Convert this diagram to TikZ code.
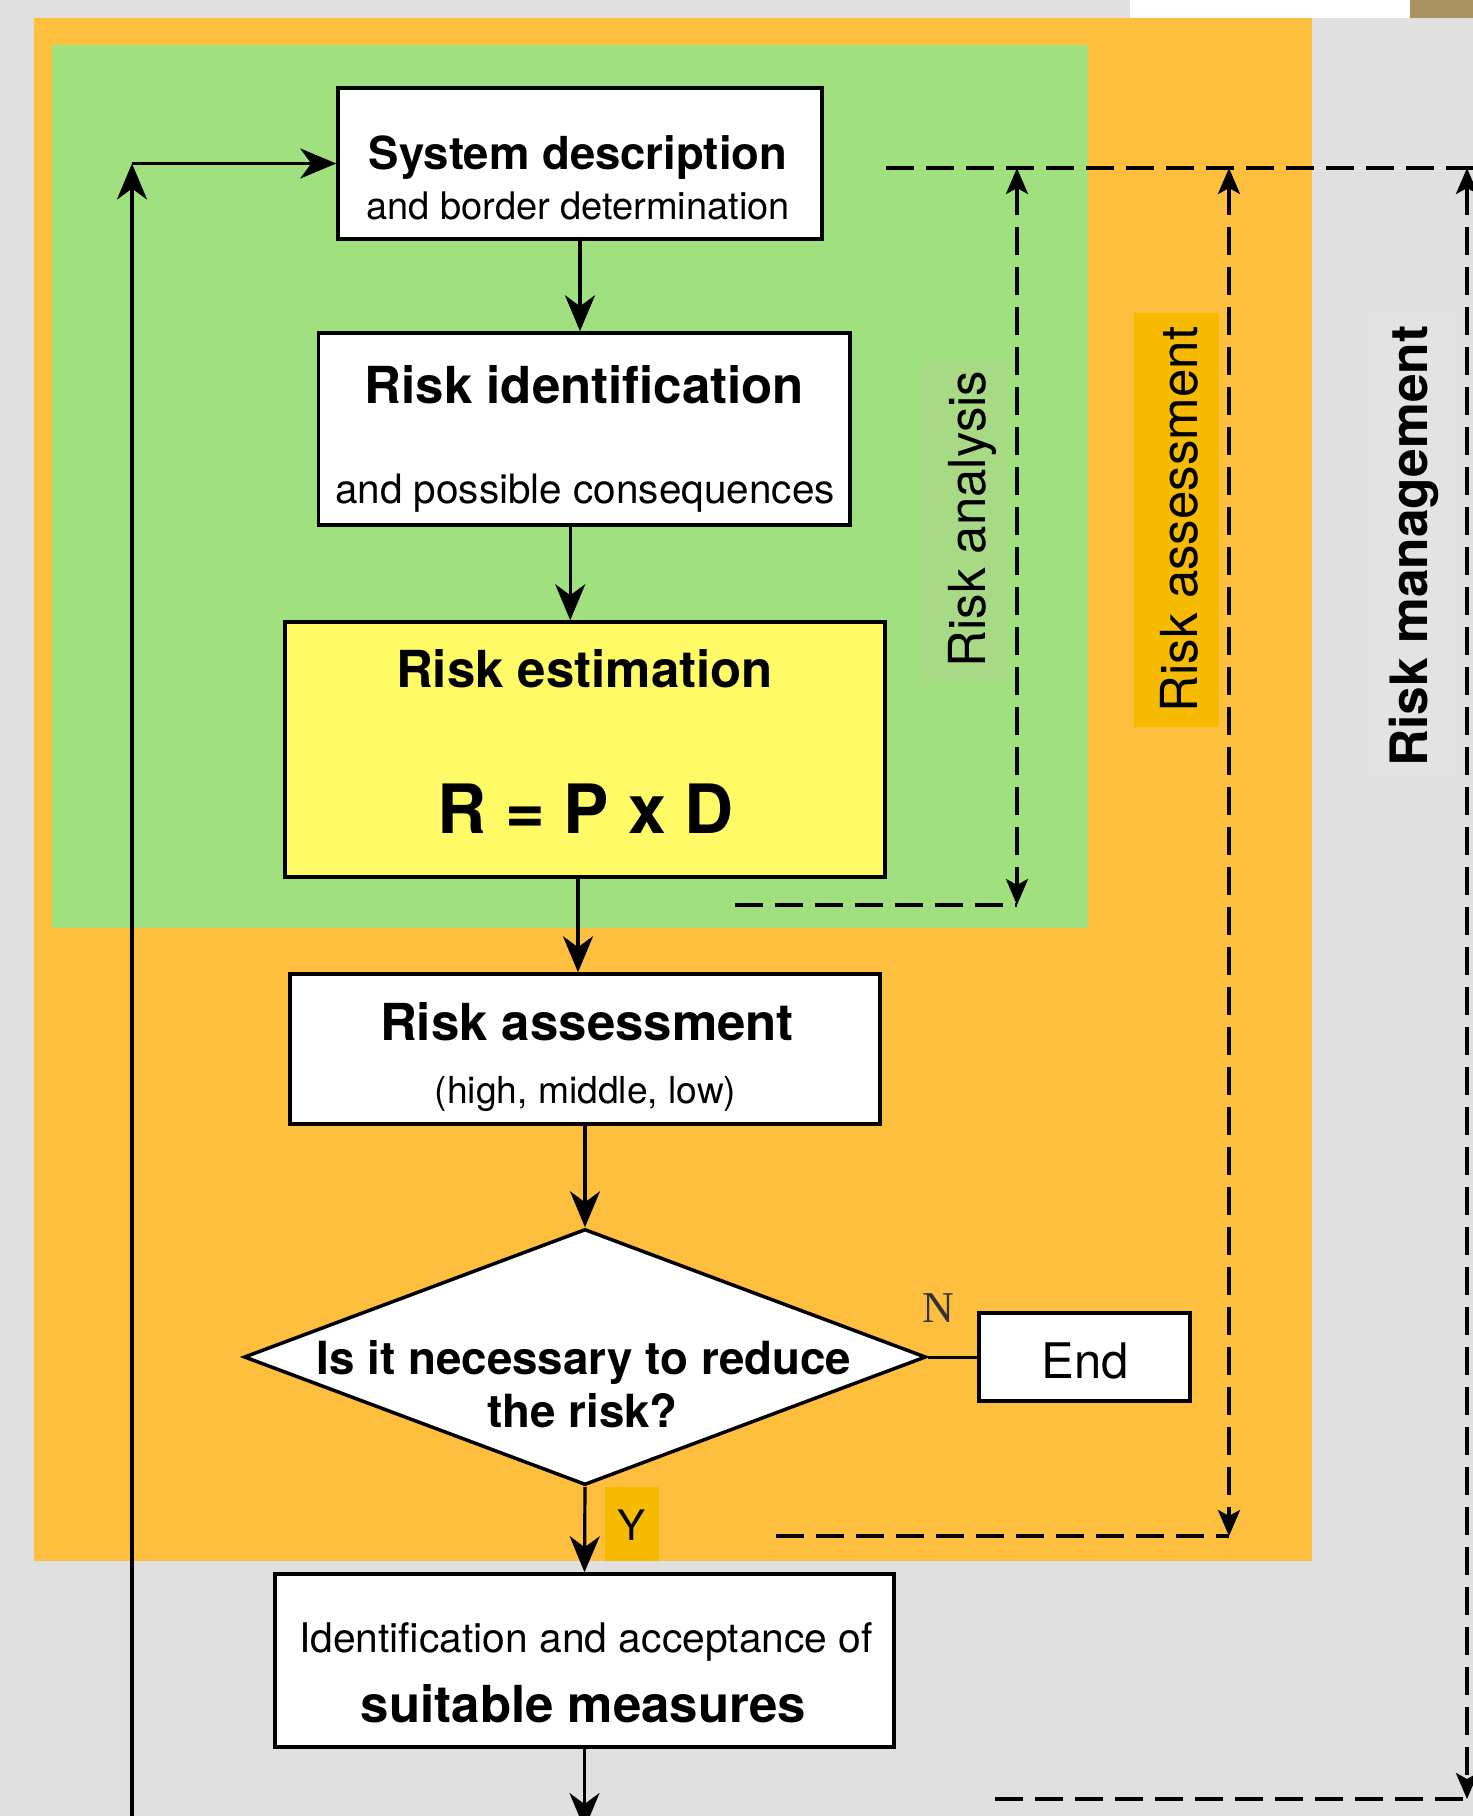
\documentclass[tikz,border=0pt]{standalone}
\usepackage{fontspec}
\setmainfont{TeX Gyre Heros}
\newfontfamily\serifN{Liberation Serif}
\usetikzlibrary{arrows.meta,shapes.geometric}
\definecolor{bggray}{HTML}{E0E0E0}
\definecolor{orangebg}{HTML}{FEBF3F}
\definecolor{greenbg}{HTML}{A1E07F}
\definecolor{estyellow}{HTML}{FFFB66}
\definecolor{amber}{HTML}{F6BB00}
\definecolor{analysisbg}{HTML}{A8D985}
\definecolor{managebg}{HTML}{E3E3E3}
\definecolor{photo}{HTML}{A8925E}
\newcommand{\fsz}[1]{\fontsize{#1}{#1}\selectfont}

\begin{document}
\begin{tikzpicture}[x=1pt, y=-1pt,
    box/.style={draw, line width=3.5pt, fill=white, inner sep=0pt},
    flow/.style={line width=3.2pt, -{Stealth[length=36pt,width=30pt,inset=11pt]}},
    dashline/.style={line width=3.5pt, dash pattern=on 28pt off 12pt},
    dasharrow/.style={dashline, {Stealth[length=26pt,width=22pt,inset=6pt]}-{Stealth[length=26pt,width=22pt,inset=6pt]}},
    headtxt/.style={font=\bfseries\fsz{51}, inner sep=0pt, anchor=base},
    subtxt/.style={font=\fsz{38}, inner sep=0pt, anchor=base},
    sidetxt/.style={font=\fsz{51}, inner sep=0pt, anchor=base, rotate=90}]
  \useasboundingbox (0,0) rectangle (1473,1816);
  \clip (0,0) rectangle (1473,1816);
  % Backgrounds
  \fill[bggray] (0,0) rectangle (1473,1816);
  \fill[white] (1130,0) rectangle (1410,18);
  \fill[photo] (1410,0) rectangle (1473,18);
  \fill[orangebg] (34,18) rectangle (1312,1561);
  \fill[greenbg] (52,45) rectangle (1088,928);
  \fill[analysisbg] (923,360) rectangle (1007,683);
  \fill[amber] (1134,313) rectangle (1219,727);
  \fill[managebg] (1368,311) rectangle (1457,776);
  \fill[amber] (605,1487) rectangle (659,1561);

  % Dashed brackets
  \coordinate (dash-start) at (886,168);
  \coordinate (dash-end) at (1473,168);
  \draw[dashline] (dash-start) -- (dash-end);
  \coordinate (ana-top) at (1017,168);
  \coordinate (ana-bot) at (1017,905);
  \coordinate (ana-left) at (735,905);
  \draw[dashline] (ana-left) -- (ana-bot);
  \draw[dasharrow] (ana-top) -- (ana-bot);
  \coordinate (ass-top) at (1229,168);
  \coordinate (ass-bot) at (1229,1536);
  \coordinate (ass-left) at (776,1536);
  \draw[dashline] (ass-left) -- (ass-bot);
  \draw[dasharrow] (ass-top) -- (ass-bot);
  \coordinate (man-top) at (1467,168);
  \coordinate (man-bot) at (1467,1799);
  \coordinate (man-left) at (995,1799);
  \coordinate (man-right) at (1473,1799);
  \draw[dashline] (man-left) -- (man-right);
  \draw[dasharrow] (man-top) -- (man-bot);

  % Side labels
  \node[sidetxt] (lbl-analysis) at (985,519) {Risk analysis};
  \node[sidetxt] (lbl-assess) at (1197,519.5) {Risk assessment};
  \node[sidetxt, font=\bfseries\fsz{51.5}] (lbl-manage) at (1427,546) {Risk management};

  % Boxes
  \node[box, minimum width=484pt, minimum height=151pt] (sysdesc) at (580,163.5) {};
  \node[headtxt, font=\bfseries\fsz{45.5}] (sysdesc-t) at (578,169) {System description};
  \node[subtxt] (sysdesc-s) at (578,219) {and border determination};

  \node[box, minimum width=531.5pt, minimum height=192pt] (riskid) at (584.25,429) {};
  \node[headtxt] (riskid-t) at (584.5,403) {Risk identification};
  \node[subtxt, font=\fsz{40.5}] (riskid-s) at (585,503) {and possible consequences};

  \node[box, fill=estyellow, minimum width=600pt, minimum height=255pt] (riskest) at (585,749.5) {};
  \node[headtxt] (riskest-t) at (584.5,687) {Risk estimation};
  \node[headtxt, font=\bfseries\fsz{68}] (riskest-f) at (585.5,833) {R = P x D};

  \node[box, minimum width=590pt, minimum height=150pt] (riskass) at (585,1049) {};
  \node[headtxt] (riskass-t) at (587,1040) {Risk assessment};
  \node[subtxt, font=\fsz{37.2}] (riskass-s) at (585.5,1103) {(high, middle, low)};

  \node[box, shape=diamond, minimum width=682pt, minimum height=256pt] (dec) at (585,1357) {};
  \node[headtxt, font=\bfseries\fsz{45.7}] (dec-t1) at (584,1374) {Is it necessary to reduce};
  \node[headtxt, font=\bfseries\fsz{45.7}] (dec-t2) at (582.5,1427) {the risk?};

  \node[box, minimum width=211pt, minimum height=88pt] (stop) at (1084.5,1357) {};
  \node[subtxt, font=\fsz{49}] (stop-t) at (1085,1378) {End};

  \node[box, minimum width=619pt, minimum height=173pt] (measures) at (584.5,1660.5) {};
  \node[subtxt, font=\fsz{40.8}] (measures-s) at (586,1652) {Identification and acceptance of};
  \node[headtxt] (measures-t) at (583.5,1722) {suitable measures};

  % Branch labels
  \node[font=\serifN\fsz{44}, text=black!80, inner sep=0pt, anchor=base] (nlbl) at (938,1322) {N};
  \node[font=\fsz{42}, inner sep=0pt, anchor=base] (ylbl) at (632,1540) {Y};

  % Flow
  \draw[flow] (sysdesc.south) -- (sysdesc.south |- riskid.north);
  \draw[flow] ([xshift=-14pt]riskid.south) -- ([xshift=-14pt]riskid.south |- riskest.north);
  \draw[flow] ([xshift=-7pt]riskest.south) -- ([xshift=-7pt]riskest.south |- riskass.north);
  \draw[flow] (riskass.south) -- (dec.north);
  \draw[flow] (dec.south) -- (measures.north);
  \draw[line width=3pt] (dec.east) -- (stop.west);
  \coordinate (out) at (582,1829);
  \draw[flow] (measures.south) -- (measures.south |- out);
  % Feedback loop
  \coordinate (loopbot) at (132,1830);
  \coordinate (loopcorner) at (132,163.5);
  \draw[flow] (loopbot) -- (loopcorner);
  \draw[flow] (loopcorner) -- (sysdesc.west);
\end{tikzpicture}
\end{document}
